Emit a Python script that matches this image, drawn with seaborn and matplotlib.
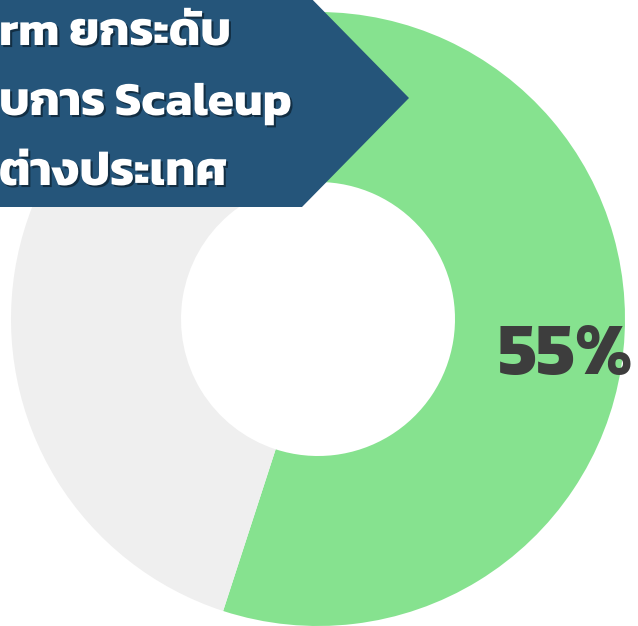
import matplotlib
matplotlib.use("Agg")
import matplotlib.pyplot as plt
import matplotlib.patheffects as pe
from matplotlib.patches import Polygon
import seaborn as sns

# data
shares = [55, 45]
share_colors = ["#86E28F", "#EFEFEF"]
center_label = "55%"
banner_lines = ["rm ยกระดับ", "บการ Scaleup", "ต่างประเทศ"]

sns.set_theme(style="white")
plt.rcParams["font.family"] = ["Kanit", "DejaVu Sans"]

W, H = 638, 626
fig = plt.figure(figsize=(W / 100, H / 100), dpi=100)
ax = fig.add_axes([0, 0, 1, 1])

# donut, starting at 12 o'clock and running clockwise
ax.pie(shares, colors=share_colors, center=(318, H - 319), radius=307,
       startangle=90, counterclock=False,
       wedgeprops=dict(width=170, linewidth=0))
ax.set_xlim(0, W)
ax.set_ylim(0, H)
ax.set_aspect("equal")
ax.axis("off")

ax.text(566, H - 357, center_label, ha="center", va="center",
        fontsize=53.5, fontweight="bold", color="#3D3D3D")

# arrow banner in the top left corner
banner = Polygon([(-10, H + 11), (302, H + 11), (409, H - 98), (302, H - 207), (-10, H - 207)],
                 closed=True, facecolor="#25557A", edgecolor="none", zorder=3)
ax.add_patch(banner)

shadow = [pe.SimplePatchShadow(offset=(1.5, -1.5), shadow_rgbFace="#0B1E2C", alpha=0.7), pe.Normal()]
for i, line in enumerate(banner_lines):
    ax.text(-1, H - 45 - 70 * i, line, ha="left", va="baseline", fontsize=34.3,
            fontweight="bold", color="white", zorder=4, path_effects=shadow)

fig.savefig("out.png", dpi=100)
